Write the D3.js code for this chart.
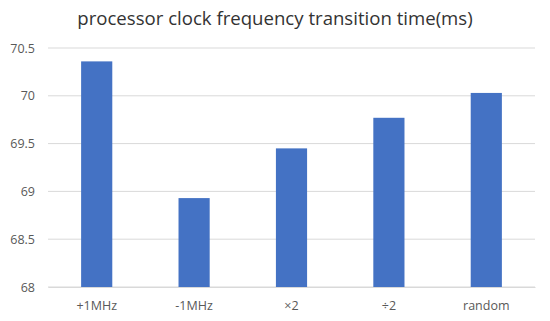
<!DOCTYPE html>
<html>
<head>
<meta charset="utf-8">
<script src="https://cdn.jsdelivr.net/npm/d3@7"></script>
<style>
	body { margin: 0; background: #fff; }
	svg { display: block; font-family: 'Open Sans', 'Noto Sans', sans-serif; }
</style>
</head>
<body>
<svg id="chart" width="550" height="321"></svg>
<script>
const title = 'processor clock frequency transition time(ms)';
const categories = ['+1MHz', '-1MHz', '\u00d72', '\u00f72', 'random'];
const values = [70.36, 68.93, 69.45, 69.77, 70.03];
const yTicks = [68, 68.5, 69, 69.5, 70, 70.5];

const svg = d3.select('#chart');
const margin = { top: 48, right: 15, bottom: 34, left: 48 };
const width = 550 - margin.left - margin.right;
const height = 321 - margin.top - margin.bottom;

const x = d3.scaleBand().domain(categories).range([0, width]).paddingInner(0.68).paddingOuter(0.34);
const y = d3.scaleLinear().domain([68, 70.5]).range([height, 0]);

const g = svg.append('g').attr('transform', `translate(${margin.left},${margin.top})`);

// gridlines
g.selectAll('line.grid')
	.data(yTicks)
	.enter()
	.append('line')
	.attr('class', 'grid')
	.attr('x1', 0)
	.attr('x2', width)
	.attr('y1', (d) => y(d))
	.attr('y2', (d) => y(d))
	.attr('stroke', '#d9d9d9')
	.attr('stroke-width', 1);

// y labels
const yAxis = g.append('g').call(d3.axisLeft(y).tickValues(yTicks).tickSize(0).tickPadding(13).tickFormat(d3.format('~g')));
yAxis.select('.domain').remove();
yAxis.selectAll('text').attr('fill', '#595959').style('font-size', '12.5px').attr('font-family', 'Open Sans, sans-serif');

// bars
g.selectAll('rect.bar')
	.data(values)
	.enter()
	.append('rect')
	.attr('class', 'bar')
	.attr('x', (d, i) => x(categories[i]))
	.attr('width', x.bandwidth())
	.attr('y', (d) => y(d))
	.attr('height', (d) => y(68) - y(d))
	.attr('fill', '#4472c4');

// x axis
const xAxis = g.append('g').attr('transform', `translate(0,${height})`).call(d3.axisBottom(x).tickSize(0).tickPadding(14));
xAxis.select('.domain').attr('stroke', '#d9d9d9');
xAxis.selectAll('text').attr('fill', '#595959').style('font-size', '12.5px').attr('font-family', 'Open Sans, sans-serif');

// title
svg.append('text')
	.attr('x', 275)
	.attr('y', 25)
	.attr('text-anchor', 'middle')
	.attr('fill', '#333')
	.style('font-size', '18.6px')
	.text(title);
</script>
</body>
</html>
